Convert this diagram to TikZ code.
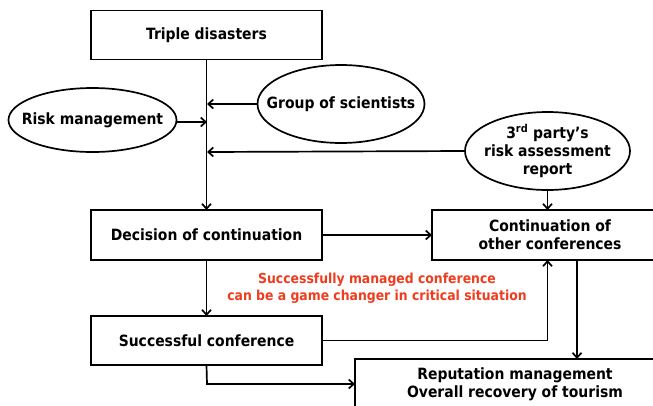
\documentclass[tikz,border=0pt]{standalone}
\usepackage{fontspec}
\setmainfont{DejaVu Sans Condensed}[BoldFont={DejaVu Sans Condensed Bold}]
\usetikzlibrary{shapes.geometric,arrows.meta}
\definecolor{redtxt}{HTML}{F03C1E}
\begin{document}
\begin{tikzpicture}[x=1pt,y=-1pt,
  font=\bfseries\fontsize{15.5}{18}\selectfont,
  every node/.style={inner sep=0pt,outer sep=0pt},
  box/.style={draw,line width=1.7pt,align=center},
  oval/.style={draw,ellipse,line width=1.7pt},
  conn/.style={line width=1.7pt,-{Straight Barb[length=5pt,width=9pt]}}]
\clip (0,0) rectangle (653,405);
\fill[white] (0,0) rectangle (653,405);
% boxes
\node[box,minimum width=231pt,minimum height=49pt] (tri) at (206.5,35) {Triple disasters};
\node[box,minimum width=231pt,minimum height=50pt] (dec) at (206.5,235) {Decision of continuation};
\node[box,minimum width=231pt,minimum height=49pt] (suc) at (206.5,340.5) {Successful conference};
\node[box,minimum width=236pt,minimum height=50pt] (con) at (550,235) {Continuation of\\other conferences};
\node[box,minimum width=320pt,minimum height=70pt,anchor=north west] (rep) at (355,359) {};
\node[align=center] (reptxt) at (515,384) {Reputation management\\Overall recovery of tourism};
% ellipses
\node[oval,minimum width=168pt,minimum height=64pt] (risk) at (92.5,120) {};
\node (risktxt) at (risk.center) {Risk management};
\node[oval,minimum width=167pt,minimum height=78pt] (grp) at (341,104) {};
\node (grptxt) at (grp.center) {Group of scientists};
\node[oval,minimum width=165pt,minimum height=78pt] (rep3) at (547.5,151) {};
\node[align=center] (rep3txt) at (rep3.center) {3\textsuperscript{rd} party's\\risk assessment\\report};
% red text
\node[text=redtxt,align=center,font=\bfseries\fontsize{13.8}{17}\selectfont] (note) at (377,288.5) {Successfully managed conference\\can be a game changer in critical situation};
% coordinates on the main line
\coordinate (jg) at (207,104);
\coordinate (jr) at (207,122);
\coordinate (j3) at (207,152);
% connectors
\draw[conn] (tri.south) -- (dec.north);
\draw[conn] (grp.west) -- (jg);
\draw[conn] (risk.east |- jr) -- (jr);
\draw[conn] (rep3.west) -- (j3);
\draw[conn] (rep3.south) -- (rep3.south |- con.north);
\draw[conn] (dec.east) -- (dec.east -| con.west);
\draw[conn] (dec.south) -- (suc.north);
\coordinate (cb) at (547.5,260);
\draw[conn] (suc.east) -| (cb);
\coordinate (cdown) at (577,260);
\draw[conn] (cdown) -- (cdown |- rep.north);
\coordinate (sb) at (207,384);
\draw[conn] (suc.south) -- (sb) -- (sb -| rep.west);
\end{tikzpicture}
\end{document}
